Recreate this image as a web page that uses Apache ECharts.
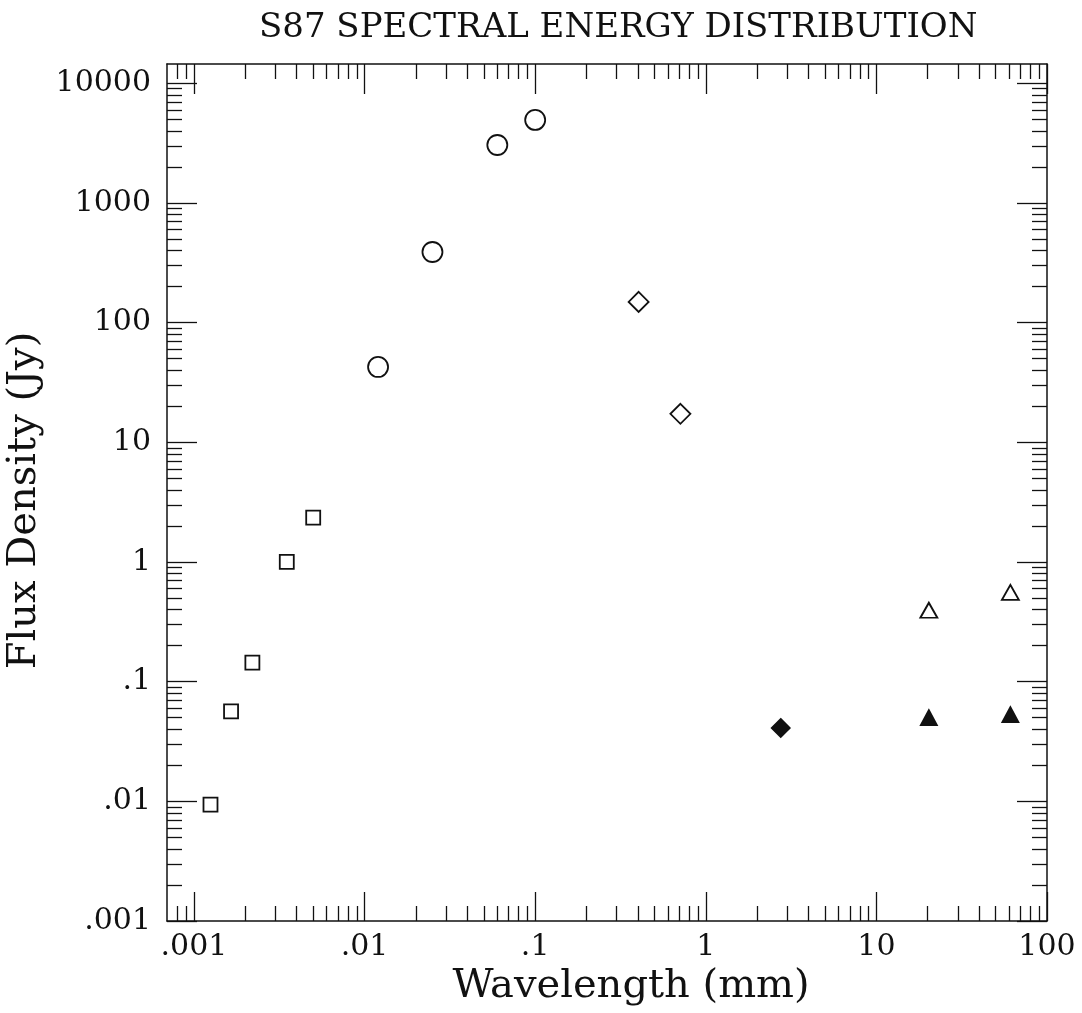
<!DOCTYPE html>
<html>
<head>
<meta charset="utf-8">
<script src="https://cdn.jsdelivr.net/npm/echarts@6/dist/echarts.min.js"></script>
<style>html,body{margin:0;padding:0;background:#fff}#c{width:1082px;height:1013px}</style>
</head>
<body>
<div id="c"></div>
<script>
// ---- data (wavelength in mm, flux density in Jy) ----
const squareWave = [0.00125, 0.00165, 0.0022, 0.0035, 0.005];
const squareFlux = [0.0094, 0.0565, 0.144, 1.0, 2.35];
const circleWave = [0.012, 0.025, 0.06, 0.1];
const circleFlux = [42.6, 389, 3050, 4940];
const diamondWave = [0.404, 0.71];
const diamondFlux = [149, 17.3];
const filledDiamondWave = [2.75];
const filledDiamondFlux = [0.041];
const openTriWave = [20.3, 61];
const openTriFlux = [0.395, 0.558];
const filledTriWave = [20.3, 61];
const filledTriFlux = [0.050, 0.053];

// ---- tick labels ----
const xTickValues = [0.001, 0.01, 0.1, 1, 10, 100];
const xTickLabels = ['.001', '.01', '.1', '1', '10', '100'];
const yTickValues = [0.001, 0.01, 0.1, 1, 10, 100, 1000, 10000];
const yTickLabels = ['.001', '.01', '.1', '1', '10', '100', '1000', '10000'];

const titleText = 'S87 SPECTRAL ENERGY DISTRIBUTION';
const xName = 'Wavelength (mm)';
const yName = 'Flux Density (Jy)';

// ---- axis ranges (log10 space) ----
const XMIN = -3.158, XMAX = 2.0;
const YMIN = -3.0, YMAX = 4.161;

const lg = v => Math.log10(v);
const pairs = (xs, ys) => xs.map((x, i) => [lg(x), lg(ys[i])]);

function minorTicks(lo, hi) {
  const out = [];
  for (let n = Math.floor(lo) - 1; n <= Math.ceil(hi); n++) {
    for (let k = 2; k <= 9; k++) {
      const v = n + Math.log10(k);
      if (v > lo + 0.01 && v < hi - 0.01) out.push(v);
    }
  }
  return out;
}
const xMajor = xTickValues.map(lg);
const yMajor = yTickValues.map(lg);
const xMinor = minorTicks(XMIN, XMAX);
const yMinor = minorTicks(YMIN, YMAX);

const FONT = 'DejaVu Serif';
const INK = '#111';
const lineStyle = { color: INK, width: 1.5 };

function xAx(pos, vals, len, showLine, labels) {
  return {
    type: 'value', position: pos, min: XMIN, max: XMAX,
    splitLine: { show: false },
    axisLine: { show: showLine, onZero: false, lineStyle },
    axisTick: { show: true, inside: true, length: len, customValues: vals, lineStyle: { color: INK, width: 1.3 } },
    axisLabel: labels ? {
      show: true, customValues: xMajor, margin: 11,
      fontFamily: FONT, fontSize: 30, color: INK,
      formatter: v => { const i = xMajor.findIndex(m => Math.abs(m - v) < 1e-6); return i >= 0 ? xTickLabels[i] : ''; }
    } : { show: false },
    name: labels ? xName : '', nameLocation: 'middle', nameGap: 42,
    nameTextStyle: { fontFamily: FONT, fontSize: 40, color: INK, padding: [0, 0, 0, 48] }
  };
}
function yAx(pos, vals, len, showLine, labels) {
  return {
    type: 'value', position: pos, min: YMIN, max: YMAX,
    splitLine: { show: false },
    axisLine: { show: showLine, onZero: false, lineStyle },
    axisTick: { show: true, inside: true, length: len, customValues: vals, lineStyle: { color: INK, width: 1.3 } },
    axisLabel: labels ? {
      show: true, customValues: yMajor, margin: 16,
      fontFamily: FONT, fontSize: 30, color: INK,
      formatter: v => { const i = yMajor.findIndex(m => Math.abs(m - v) < 1e-6); return i >= 0 ? yTickLabels[i] : ''; }
    } : { show: false },
    name: labels ? yName : '', nameLocation: 'middle', nameGap: 108, nameRotate: 90,
    nameTextStyle: { fontFamily: FONT, fontSize: 40, color: INK, padding: [0, 16, 0, 0] }
  };
}

function sc(name, data, symbol, size, filled) {
  return {
    name, type: 'scatter', data, symbol, symbolSize: size,
    xAxisIndex: 0, yAxisIndex: 0,
    itemStyle: { color: filled ? INK : '#fff', borderColor: INK, borderWidth: 1.8, opacity: 1 },
    emphasis: { disabled: true }, silent: true, z: 5
  };
}

const chart = echarts.init(document.getElementById('c'), null, { renderer: 'canvas' });
chart.setOption({
  animation: false,
  backgroundColor: '#fff',
  title: {
    text: titleText, left: 254, top: 6,
    textStyle: { fontFamily: FONT, fontSize: 34, fontWeight: 'normal', color: INK }
  },
  grid: { left: 167, right: 35, top: 64, bottom: 92, containLabel: false, outerBoundsMode: 'none' },
  xAxis: [
    xAx('bottom', xMajor, 29, true, true),
    xAx('bottom', xMinor, 15, false, false),
    xAx('top', xMajor, 30, true, false),
    xAx('top', xMinor, 15, false, false)
  ],
  yAxis: [
    yAx('left', yMajor, 30, true, true),
    yAx('left', yMinor, 15, false, false),
    yAx('right', yMajor, 30, true, false),
    yAx('right', yMinor, 15, false, false)
  ],
  series: [
    sc('squares', pairs(squareWave, squareFlux), 'rect', 14, false),
    sc('circles', pairs(circleWave, circleFlux), 'circle', 20, false),
    sc('diamonds', pairs(diamondWave, diamondFlux), 'diamond', [20, 20], false),
    sc('filledDiamond', pairs(filledDiamondWave, filledDiamondFlux), 'diamond', [18, 18], true),
    sc('openTri', pairs(openTriWave, openTriFlux), 'triangle', [17, 15], false),
    sc('filledTri', pairs(filledTriWave, filledTriFlux), 'triangle', [16, 15], true)
  ]
});
</script>
</body>
</html>
